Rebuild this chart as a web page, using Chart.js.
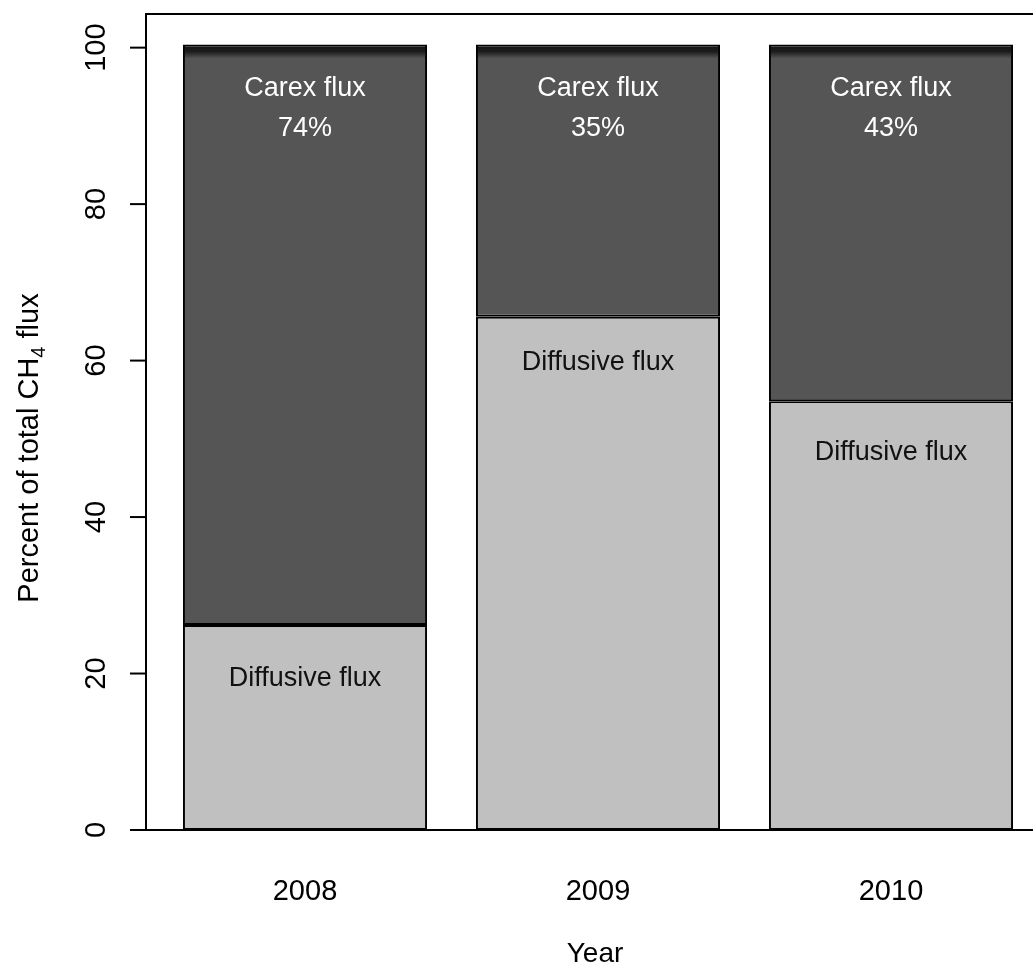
<!DOCTYPE html>
<html>
<head>
<meta charset="utf-8">
<script src="https://cdn.jsdelivr.net/npm/chart.js@4/dist/chart.umd.min.js"></script>
<style>
  html, body { margin: 0; padding: 0; background: #ffffff; overflow: hidden; }
  #wrap { width: 1033px; height: 972px; overflow: hidden; position: relative; }
  canvas { display: block; }
</style>
</head>
<body>
<div id="wrap"><canvas id="c" width="1060" height="972"></canvas></div>
<script>
// ---- data ----
const categories = ["2008", "2009", "2010"];
const diffusiveFlux = [26.2, 65.6, 54.8];
const carexFlux = [74.2, 34.8, 45.6];
const carexPercentLabels = ["74%", "35%", "43%"];
const carexLabelText = "Carex flux";
const diffusiveLabelText = "Diffusive flux";
const carexLabelPos = [94.8, 94.8, 94.8];
const carexPercentPos = [89.7, 89.7, 89.7];
const diffusiveLabelPos = [19.4, 59.8, 48.3];
const yTicks = [0, 20, 40, 60, 80, 100];
const yTitleMain = "Percent of total CH";
const yTitleSub = "4";
const yTitleEnd = " flux";
const xTitle = "Year";

const FONT = '"Liberation Sans", Arial, Helvetica, sans-serif';

function carexFill(context) {
  const chart = context.chart;
  const ca = chart.chartArea;
  if (!ca) return '#535353';
  const ys = chart.scales.y;
  const topPx = ys.getPixelForValue(100.4);
  const g = chart.ctx.createLinearGradient(0, topPx, 0, topPx + 14);
  g.addColorStop(0, '#111111');
  g.addColorStop(0.5, '#1c1c1c');
  g.addColorStop(1, '#555555');
  return g;
}

const decor = {
  id: 'decor',
  afterDatasetsDraw(chart) {
    const ctx = chart.ctx;
    const ca = chart.chartArea;
    const xs = chart.scales.x, ys = chart.scales.y;
    const axisX = ca.left - 12.5;
    const y0 = ys.getPixelForValue(0);
    const W = chart.width;
    ctx.save();
    ctx.strokeStyle = '#000';
    ctx.lineWidth = 2;
    ctx.beginPath();
    ctx.moveTo(axisX, y0);
    ctx.lineTo(axisX, ca.top);
    ctx.lineTo(W, ca.top);
    ctx.stroke();
    ctx.beginPath();
    ctx.moveTo(axisX - 16, y0);
    ctx.lineTo(W, y0);
    ctx.stroke();
    // y ticks
    ctx.fillStyle = '#000';
    ctx.font = '29px ' + FONT;
    ctx.textAlign = 'center';
    ctx.textBaseline = 'middle';
    yTicks.forEach(v => {
      const py = ys.getPixelForValue(v);
      ctx.beginPath();
      ctx.moveTo(axisX - 16, py);
      ctx.lineTo(axisX, py);
      ctx.stroke();
      ctx.save();
      ctx.translate(axisX - 49, py);
      ctx.rotate(-Math.PI / 2);
      ctx.fillText(String(v), 0, 0);
      ctx.restore();
    });
    // x labels
    categories.forEach((c, i) => {
      ctx.fillText(c, xs.getPixelForValue(i), 892);
    });
    // x title
    ctx.font = '28px ' + FONT;
    ctx.fillText(xTitle, (axisX + W) / 2 - 8, 954);
    // y title with subscript
    ctx.save();
    ctx.translate(30, 448);
    ctx.rotate(-Math.PI / 2);
    const mainFont = '29px ' + FONT, subFont = '20px ' + FONT;
    ctx.font = mainFont;
    const w1 = ctx.measureText(yTitleMain).width;
    const w3 = ctx.measureText(yTitleEnd).width;
    ctx.font = subFont;
    const w2 = ctx.measureText(yTitleSub).width;
    let x = -(w1 + w2 + w3) / 2;
    ctx.textAlign = 'left';
    ctx.font = mainFont;
    ctx.fillText(yTitleMain, x, 0); x += w1;
    ctx.font = subFont;
    ctx.fillText(yTitleSub, x, 9); x += w2;
    ctx.font = mainFont;
    ctx.fillText(yTitleEnd, x, 0);
    ctx.restore();
    // annotations
    ctx.textAlign = 'center';
    ctx.font = '27px ' + FONT;
    categories.forEach((c, i) => {
      const px = xs.getPixelForValue(i);
      ctx.fillStyle = '#ffffff';
      ctx.fillText(carexLabelText, px, ys.getPixelForValue(carexLabelPos[i]));
      ctx.fillText(carexPercentLabels[i], px, ys.getPixelForValue(carexPercentPos[i]));
      ctx.fillStyle = '#111111';
      ctx.fillText(diffusiveLabelText, px, ys.getPixelForValue(diffusiveLabelPos[i]));
    });
    ctx.restore();
  }
};

new Chart(document.getElementById('c'), {
  type: 'bar',
  data: {
    labels: categories,
    datasets: [
      {
        label: 'Diffusive flux',
        data: diffusiveFlux,
        backgroundColor: '#c0c0c0',
        borderColor: '#000',
        borderWidth: 2,
        borderSkipped: false,
        barPercentage: 0.833,
        categoryPercentage: 1.0
      },
      {
        label: 'Carex flux',
        data: carexFlux,
        backgroundColor: carexFill,
        borderColor: '#000',
        borderWidth: 2,
        borderSkipped: false,
        barPercentage: 0.833,
        categoryPercentage: 1.0
      }
    ]
  },
  options: {
    responsive: false,
    animation: false,
    layout: { padding: { left: 158.5, right: 22.5, top: 14, bottom: 142 } },
    plugins: { legend: { display: false }, tooltip: { enabled: false } },
    scales: {
      x: { type: 'category', stacked: true, display: false, offset: true },
      y: { type: 'linear', stacked: true, display: false, min: 0, max: 104.3 }
    }
  },
  plugins: [decor]
});
</script>
</body>
</html>
